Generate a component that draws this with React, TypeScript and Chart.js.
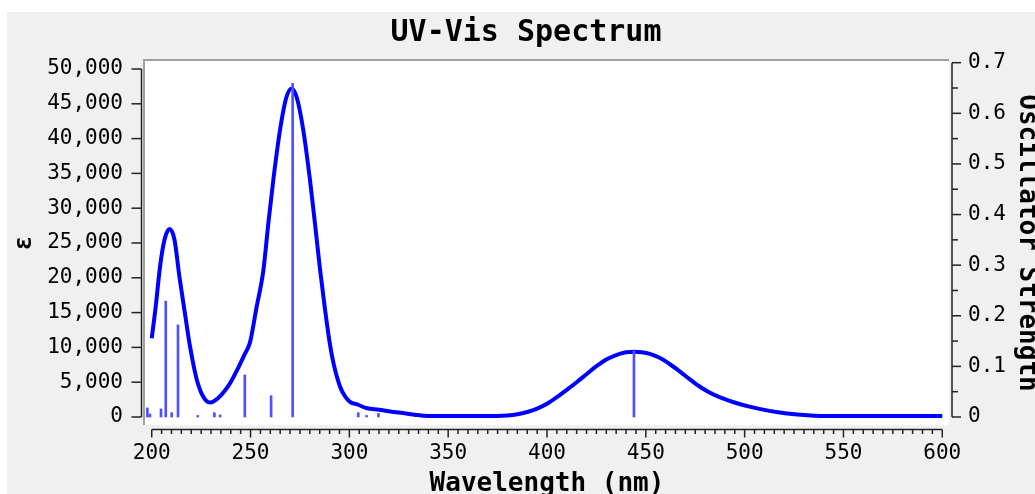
import React, { useEffect, useRef } from 'react';
import { Chart, registerables } from 'chart.js';

Chart.register(...registerables);

// ---- Data ----
const curveNm = [
  200, 202, 204.2, 206.5, 209, 211.5, 214, 216.8, 219.4, 222.8, 226, 229.5, 233.5, 239.6, 244, 247, 249.7,
  253, 256.5, 259, 261.5, 264.9, 268, 270.8, 273.5, 276.7, 280.1, 282.6, 285.2, 287.7, 290.2, 292, 295.3,
  298, 300.5, 304, 309, 315, 320, 326, 333, 340, 360, 375, 380, 385, 390, 395, 400, 405, 410, 415, 420, 425,
  430, 435, 440, 444, 448, 452, 457, 462, 467, 472, 477, 482, 487, 492, 497, 503, 510, 517, 524, 530, 536,
  542, 570, 600,
];
const curveEpsilon = [
  11300, 15800, 21600, 25500, 27000, 25500, 20200, 14900, 10100, 5360, 2960, 2100, 2700, 4840, 7200, 9000, 10700,
  15700, 21100, 27800, 34000, 41200, 45800, 47200, 45800, 41200, 34000, 27800, 21100, 15400, 10400, 7700, 4350,
  2900, 2150, 1800, 1250, 1050, 820, 600, 330, 150, 150, 150, 220, 400, 720, 1200, 1900, 2850, 3900, 5000, 6150, 7300,
  8260, 8900, 9290, 9380, 9310, 9080, 8500, 7620, 6600, 5470, 4420, 3560, 2890, 2350, 1900, 1460, 1020, 690, 440, 290, 180,
  150, 150, 150,
];
const stickNm = [197.8, 199.1, 204.7, 207.1, 210.1, 213.3, 223.3, 231.7, 234.6, 247.1, 260.4, 271.3, 304.5, 308.7, 314.7, 444.0];
const stickStrength = [0.018, 0.006, 0.016, 0.229, 0.0085, 0.182, 0.003, 0.0085, 0.004, 0.083, 0.042, 0.659, 0.0085, 0.003, 0.007, 0.131];

const xTickValues = [200, 250, 300, 350, 400, 450, 500, 550, 600];
const yLeftTickValues = [0, 5000, 10000, 15000, 20000, 25000, 30000, 35000, 40000, 45000, 50000];
const yRightTickValues = [0, 0.1, 0.2, 0.3, 0.4, 0.5, 0.6, 0.7];

const titleText = 'UV-Vis Spectrum';
const xTitle = 'Wavelength (nm)';
const yLeftTitle = 'ε';
const yRightTitle = 'Oscillator Strength';

const FONT = "'DejaVu Sans Mono', monospace";

const framePlugin = {
  id: 'frame',
  beforeDraw(chart: any) {
    const { ctx, chartArea: ca, width, height } = chart;
    ctx.save();
    ctx.fillStyle = '#ffffff';
    ctx.fillRect(0, 0, width, height);
    ctx.fillStyle = '#f0f0f0';
    ctx.fillRect(7, 12, width - 7, height - 12);
    ctx.fillStyle = '#ffffff';
    ctx.fillRect(ca.left, ca.top, ca.right - ca.left, ca.bottom - ca.top);
    ctx.fillStyle = '#a0a0a0';
    ctx.fillRect(ca.left - 2, ca.top - 2, ca.right - ca.left + 2, 2);
    ctx.fillRect(ca.left - 2, ca.top - 2, 2, ca.bottom - ca.top + 2);
    ctx.restore();
  },
  afterDraw(chart: any) {
    const { ctx, chartArea: ca } = chart;
    const x = chart.scales.x;
    const yL = chart.scales.yL;
    const yR = chart.scales.yR;
    ctx.save();
    ctx.strokeStyle = '#222222';
    ctx.lineWidth = 1.5;
    const line = (x1: number, y1: number, x2: number, y2: number) => {
      ctx.beginPath();
      ctx.moveTo(x1, y1);
      ctx.lineTo(x2, y2);
      ctx.stroke();
    };
    // left axis
    const lx = ca.left - 3.5;
    const lTicks = yL.ticks.map((t: any) => t.value);
    line(lx, yL.getPixelForValue(Math.min(...lTicks)), lx, yL.getPixelForValue(Math.max(...lTicks)));
    lTicks.forEach((v: number) => {
      const py = yL.getPixelForValue(v);
      line(lx - 10, py, lx, py);
    });
    // right axis
    const rx = ca.right + 3;
    const rTicks = yR.ticks.map((t: any) => t.value);
    const rMin = Math.min(...rTicks);
    const rMax = Math.max(...rTicks);
    line(rx, yR.getPixelForValue(rMin), rx, yR.getPixelForValue(rMax));
    for (let i = 0; i <= Math.round((rMax - rMin) / 0.05); i++) {
      const v = rMin + i * 0.05;
      const py = yR.getPixelForValue(v);
      line(rx, py, rx + (i % 2 === 0 ? 9 : 6), py);
    }
    // bottom axis
    const by = ca.bottom + 4.5;
    const xTicks = x.ticks.map((t: any) => t.value);
    const xMin = Math.min(...xTicks);
    const xMax = Math.max(...xTicks);
    line(x.getPixelForValue(xMin), by, x.getPixelForValue(xMax), by);
    for (let i = 0; i <= Math.round((xMax - xMin) / 5); i++) {
      const v = xMin + i * 5;
      const px = x.getPixelForValue(v);
      line(px, by, px, by + (i % 10 === 0 ? 8 : 4.5));
    }
    ctx.restore();
  },
};

export default function App() {
  const ref = useRef<HTMLCanvasElement>(null);
  useEffect(() => {
    const canvas = ref.current;
    if (!canvas) return;
    const chart = new Chart(canvas, {
      type: 'line',
      data: {
        datasets: [
          {
            type: 'bar',
            label: 'f',
            data: stickNm.map((nm, i) => ({ x: nm, y: stickStrength[i] })),
            xAxisID: 'x',
            yAxisID: 'yR',
            backgroundColor: '#5050ff',
            borderWidth: 0,
            barThickness: 2,
            order: 0,
          } as any,
          {
            type: 'line',
            label: 'ε',
            data: curveNm.map((nm, i) => ({ x: nm, y: curveEpsilon[i] })),
            xAxisID: 'x',
            yAxisID: 'yL',
            borderColor: '#0000ff',
            borderWidth: 4,
            pointRadius: 0,
            fill: false,
            cubicInterpolationMode: 'monotone',
            order: 1,
          } as any,
        ],
      },
      options: {
        animation: false,
        responsive: false,
        devicePixelRatio: 1,
        events: [],
        layout: { padding: { left: 17, right: 0, top: 12, bottom: 0 } },
        plugins: {
          legend: { display: false },
          tooltip: { enabled: false },
          title: {
            display: true,
            text: titleText,
            color: '#000000',
            font: { family: FONT, size: 30, weight: 'bold', lineHeight: 1.2 },
            padding: { top: 3, bottom: 10 },
          },
        },
        scales: {
          x: {
            type: 'linear',
            position: 'bottom',
            min: 196.6,
            max: 603.4,
            offset: false,
            grid: { display: false, drawTicks: false },
            border: { display: false },
            afterBuildTicks(scale: any) {
              scale.ticks = xTickValues.map((v) => ({ value: v }));
            },
            ticks: {
              padding: 16,
              color: '#000000',
              font: { family: FONT, size: 21 },
              maxRotation: 0,
              autoSkip: false,
            },
            title: {
              display: true,
              text: xTitle,
              color: '#000000',
              font: { family: FONT, size: 26, weight: 'bold', lineHeight: '20px' },
              padding: { top: 0, bottom: 0 },
            },
            afterFit(scale: any) {
              scale.height = 69;
            },
          },
          yL: {
            type: 'linear',
            position: 'left',
            min: -1149,
            max: 51149,
            grid: { display: false, drawTicks: false },
            border: { display: false },
            afterBuildTicks(scale: any) {
              scale.ticks = yLeftTickValues.map((v) => ({ value: v }));
            },
            ticks: {
              padding: 22,
              color: '#000000',
              font: { family: FONT, size: 21 },
              autoSkip: false,
            },
            title: {
              display: true,
              text: yLeftTitle,
              color: '#000000',
              font: { family: FONT, size: 24, weight: 'bold', lineHeight: '16px' },
              padding: { top: 0, bottom: 0 },
            },
            afterFit(scale: any) {
              scale.width = 128;
            },
          },
          yR: {
            type: 'linear',
            position: 'right',
            min: -0.0158,
            max: 0.70336,
            grid: { display: false, drawTicks: false },
            border: { display: false },
            afterBuildTicks(scale: any) {
              scale.ticks = yRightTickValues.map((v) => ({ value: v }));
            },
            ticks: {
              padding: 19,
              color: '#000000',
              font: { family: FONT, size: 21 },
              autoSkip: false,
            },
            title: {
              display: true,
              text: yRightTitle,
              color: '#000000',
              font: { family: FONT, size: 26, weight: 'bold', lineHeight: '16px' },
              padding: { top: 0, bottom: 0 },
            },
            afterFit(scale: any) {
              scale.width = 86;
            },
          },
        },
      } as any,
      plugins: [framePlugin],
    });
    return () => chart.destroy();
  }, []);
  return (
    <div style={{ position: 'fixed', left: 0, top: 0, width: 1035, height: 494 }}>
      <canvas ref={ref} width={1035} height={494} style={{ display: 'block', width: 1035, height: 494 }} />
    </div>
  );
}
